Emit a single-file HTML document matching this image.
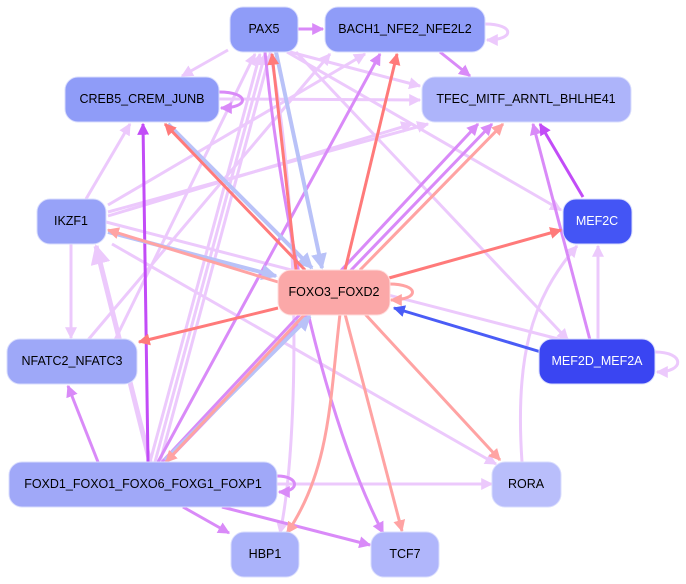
<!DOCTYPE html>
<html><head><meta charset="utf-8"><style>
html,body{margin:0;padding:0;background:#fff;}
svg{display:block;}
text{font-family:"Liberation Sans",sans-serif;font-size:12.5px;text-anchor:middle;dominant-baseline:central;}
</style></head><body>
<svg width="686" height="584" viewBox="0 0 686 584" xmlns="http://www.w3.org/2000/svg">
<defs>
<marker id="mL" viewBox="0 0 10 10" refX="9" refY="5" markerWidth="4" markerHeight="4" orient="auto" markerUnits="strokeWidth"><path d="M0,0L10,5L0,10z" fill="#ecc9fc"/></marker>
<marker id="mM" viewBox="0 0 10 10" refX="9" refY="5" markerWidth="4" markerHeight="4" orient="auto" markerUnits="strokeWidth"><path d="M0,0L10,5L0,10z" fill="#d98af8"/></marker>
<marker id="mS" viewBox="0 0 10 10" refX="9" refY="5" markerWidth="4" markerHeight="4" orient="auto" markerUnits="strokeWidth"><path d="M0,0L10,5L0,10z" fill="#c24cf7"/></marker>
<marker id="mR" viewBox="0 0 10 10" refX="9" refY="5" markerWidth="4" markerHeight="4" orient="auto" markerUnits="strokeWidth"><path d="M0,0L10,5L0,10z" fill="#ff7a7a"/></marker>
<marker id="mP" viewBox="0 0 10 10" refX="9" refY="5" markerWidth="4" markerHeight="4" orient="auto" markerUnits="strokeWidth"><path d="M0,0L10,5L0,10z" fill="#ffa3a3"/></marker>
<marker id="mB" viewBox="0 0 10 10" refX="9" refY="5" markerWidth="4" markerHeight="4" orient="auto" markerUnits="strokeWidth"><path d="M0,0L10,5L0,10z" fill="#4a5cf6"/></marker>
<marker id="mBL" viewBox="0 0 10 10" refX="9" refY="5" markerWidth="4" markerHeight="4" orient="auto" markerUnits="strokeWidth"><path d="M0,0L10,5L0,10z" fill="#b9c2f8"/></marker>
</defs>
<g fill="none" stroke-width="3">
<!-- light lilac -->
<g stroke="#ecc9fc" marker-end="url(#mL)">
<path d="M228,50 L182,76"/>
<path d="M290,52 L420,86"/>
<path d="M219,99 L420,100"/>
<path d="M287,52 L561,210"/>
<path d="M296,52 L568,340"/>
<path d="M106,222 L570,342"/>
<path d="M112,244 L496,464"/>
<path d="M86,199 L130,124"/>
<path d="M71,244 L71,338"/>
<path d="M108,205 L365,54"/>
<path d="M108,212 L428,124"/>
<path d="M108,216 L412,124"/>
<path d="M150,462 L260,54"/>
<path d="M155,462 L265,54"/>
<path d="M160,462 L270,54"/>
<path d="M277,484 L492,484"/>
<path d="M270,52 C300,200 300,440 280,533"/>
<path d="M115,340 L255,54"/>
<path d="M88,340 L330,54"/>
<path d="M150,462 C130,380 110,300 96,246" stroke-width="5"/>
<path d="M598,340 L598,246"/>
<path d="M522,462 C515,360 530,300 577,246"/>
<path d="M485,24 C515,24 515,40 487,40"/>
<path d="M655,352 C685,352 685,372 657,372"/>
</g>
<!-- medium purple -->
<g stroke="#d98af8" marker-end="url(#mM)">
<path d="M298,29 L323,29"/>
<path d="M440,52 L470,76"/>
<path d="M590,340 L533,124"/>
<path d="M158,462 L380,54"/>
<path d="M162,462 L478,124"/>
<path d="M166,462 L492,124"/>
<path d="M98,462 L68,386"/>
<path d="M183,507 L229,533"/>
<path d="M222,507 L370,545"/>
<path d="M265,52 C285,250 330,430 383,533"/>
<path d="M219,92 C250,92 250,108 221,108"/>
<path d="M277,476 C300,476 300,492 279,492"/>
</g>
<!-- strong purple -->
<g stroke="#c24cf7" marker-end="url(#mS)">
<path d="M148,462 L143,124"/>
<path d="M583,197 L540,124"/>
</g>
<!-- light blue -->
<g stroke="#b9c2f8" marker-end="url(#mBL)" stroke-width="4">
<path d="M276,52 L322,268"/>
<path d="M168,124 L312,268"/>
<path d="M108,232 L276,276"/>
<path d="M165,460 L310,316"/>
</g>
<!-- salmon -->
<g stroke="#ff7a7a" marker-end="url(#mR)">
<path d="M305,270 L165,124"/>
<path d="M345,270 L397,54"/>
<path d="M389,278 L561,230"/>
<path d="M278,308 L139,342"/>
<path d="M296,270 L272,54"/>
</g>
<g stroke="#ffa3a3" marker-end="url(#mP)">
<path d="M360,270 L503,124"/>
<path d="M278,282 L108,230"/>
<path d="M305,314 L166,462"/>
<path d="M365,314 L500,460"/>
<path d="M345,314 L402,531"/>
<path d="M340,314 C330,400 330,470 287,533"/>
<path d="M389,284 C420,284 420,300 391,300"/>
</g>
<g stroke="#4a5cf6" marker-end="url(#mB)">
<path d="M541,352 L394,308"/>
</g>
</g>
<g stroke="#d8dcfd" stroke-width="1">
<rect x="230" y="7" width="68" height="45" rx="13" fill="#8f9cf8"/>
<rect x="325" y="7" width="160" height="45" rx="13" fill="#8f9cf8"/>
<rect x="65" y="77" width="154" height="45" rx="13" fill="#8f9cf8"/>
<rect x="422" y="77" width="209" height="45" rx="13" fill="#adb4fa"/>
<rect x="37" y="199" width="69" height="45" rx="13" fill="#97a2f8"/>
<rect x="563" y="199" width="69" height="45" rx="13" fill="#4455f5"/>
<rect x="278" y="270" width="112" height="45" rx="13" fill="#fba8a8" stroke="#fdd"/>
<rect x="7" y="339" width="130" height="45" rx="13" fill="#9ea8f8"/>
<rect x="539" y="339" width="116" height="45" rx="13" fill="#3a45f2"/>
<rect x="9" y="462" width="268" height="45" rx="13" fill="#a0a8f8"/>
<rect x="492" y="462" width="69" height="45" rx="13" fill="#b9befb"/>
<rect x="231" y="532" width="68" height="45" rx="13" fill="#aab2fa"/>
<rect x="371" y="532" width="68" height="45" rx="13" fill="#b0b6fb"/>
</g>
<g fill="#000">
<text x="264" y="29">PAX5</text>
<text x="405" y="29">BACH1_NFE2_NFE2L2</text>
<text x="142" y="99">CREB5_CREM_JUNB</text>
<text x="526" y="99">TFEC_MITF_ARNTL_BHLHE41</text>
<text x="71" y="221">IKZF1</text>
<text x="597" y="221" fill="#fff">MEF2C</text>
<text x="334" y="292">FOXO3_FOXD2</text>
<text x="72" y="361">NFATC2_NFATC3</text>
<text x="597" y="361" fill="#fff">MEF2D_MEF2A</text>
<text x="143" y="484">FOXD1_FOXO1_FOXO6_FOXG1_FOXP1</text>
<text x="526" y="484">RORA</text>
<text x="265" y="554">HBP1</text>
<text x="405" y="554">TCF7</text>
</g>
</svg>
</body></html>
